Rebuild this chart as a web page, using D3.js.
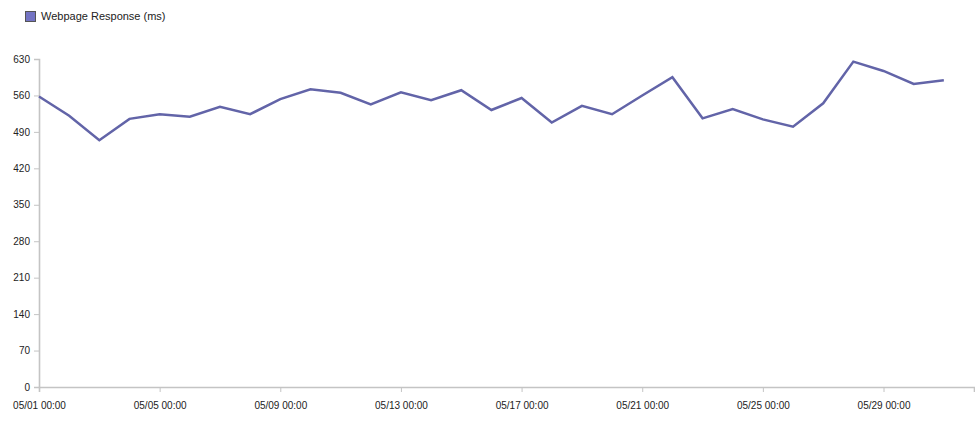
<!DOCTYPE html>
<html lang="en">
<head>
  <meta charset="UTF-8">
  <title>Webpage Response</title>
  <script src="https://d3js.org/d3.v7.min.js"></script>
  <style>
    body { margin: 0; background: #fff; }
    svg { font-family: "Liberation Sans", Arial, sans-serif; }
    .axis path, .axis line { stroke: #c4c4c4; }
    .axis path { stroke-width: 1.6px; }
    .axis text { fill: #222; font-size: 10px; }
    .legend text { font-size: 11px; fill: #222; }
  </style>
</head>
<body>
  <svg width="975" height="421"></svg>
  <script>
    const seriesName = "Webpage Response (ms)";
    const dates = d3.range(1, 32).map(d => `2015-05-${String(d).padStart(2, "0")}`);
    const values = [558, 521, 474, 515, 524, 519, 538, 524, 553, 572,
                    565, 543, 566, 551, 570, 532, 555, 508, 540, 524,
                    560, 595, 516, 534, 514, 500, 545, 625, 607, 582, 589];
    const yTicks = [0, 70, 140, 210, 280, 350, 420, 490, 560, 630];
    const xTickDays = [1, 5, 9, 13, 17, 21, 25, 29];

    const svg = d3.select("svg");
    const margin = {top: 59, right: 1, bottom: 34, left: 39};
    const width = 975, height = 421;

    const parse = d3.utcParse("%Y-%m-%d");
    const data = dates.map((d, i) => ({date: parse(d), value: values[i]}));

    const x = d3.scaleUtc()
      .domain([parse("2015-05-01"), parse("2015-06-01")])
      .range([margin.left, width - margin.right]);
    const y = d3.scaleLinear()
      .domain([0, 630])
      .range([height - margin.bottom, margin.top]);

    const color = "#6264a8";

    svg.append("g")
      .attr("class", "axis")
      .attr("transform", `translate(0,${height - margin.bottom})`)
      .call(d3.axisBottom(x)
        .tickValues(xTickDays.map(d => new Date(Date.UTC(2015, 4, d))))
        .tickFormat(d3.utcFormat("%m/%d %H:%M"))
        .tickSizeOuter(0)
        .tickSize(5)
        .tickPadding(10));

    svg.append("g")
      .attr("class", "axis")
      .attr("transform", `translate(${margin.left},0)`)
      .call(d3.axisLeft(y)
        .tickValues(yTicks)
        .tickSizeOuter(0)
        .tickSize(5)
        .tickPadding(4));

    svg.selectAll(".axis .domain").attr("stroke", "#c4c4c4");

    const line = d3.line()
      .x(d => x(d.date))
      .y(d => y(d.value));

    svg.append("path")
      .datum(data)
      .attr("fill", "none")
      .attr("stroke", color)
      .attr("stroke-width", 2.5)
      .attr("stroke-linejoin", "miter")
      .attr("d", line);

    const legend = svg.append("g").attr("class", "legend");
    legend.append("rect")
      .attr("x", 25.5).attr("y", 11.5)
      .attr("width", 10).attr("height", 10)
      .attr("fill", "#7474c4")
      .attr("stroke", "#555")
      .attr("stroke-width", 1);
    legend.append("text")
      .attr("x", 41).attr("y", 20)
      .text(seriesName);
  </script>
</body>
</html>
